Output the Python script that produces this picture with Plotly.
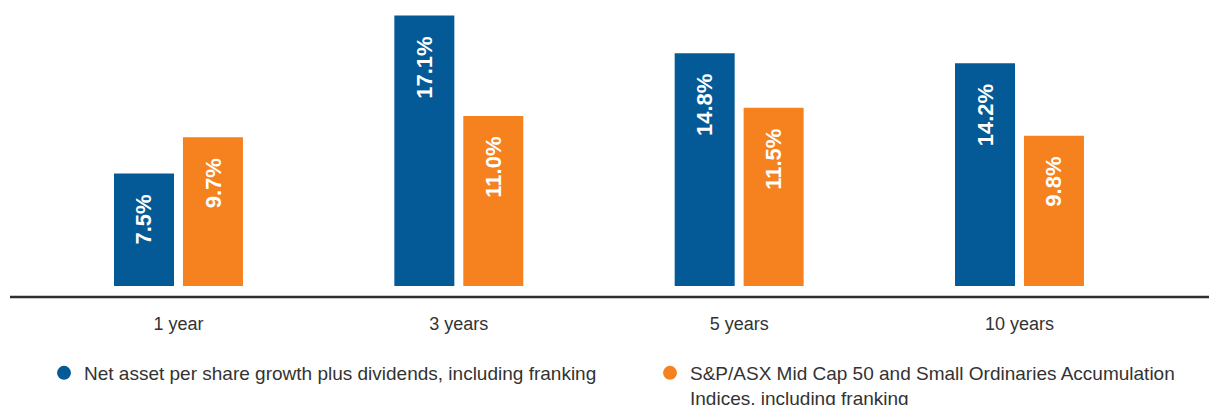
import plotly.graph_objects as go

categories = ["1 year", "3 years", "5 years", "10 years"]
nav_growth = [7.5, 17.1, 14.8, 14.2]
index_return = [9.7, 11.0, 11.5, 9.8]
series_names = [
    "Net asset per share growth plus dividends, including franking",
    "S&P/ASX Mid Cap 50 and Small Ordinaries Accumulation<br>Indices, including franking",
]
colors = ["#045A96", "#F5821F"]

FONT = "Liberation Sans, Arial, sans-serif"

fig = go.Figure()
for vals, col in zip([nav_growth, index_return], colors):
    fig.add_trace(go.Bar(x=categories, y=vals, marker=dict(color=col, line=dict(width=0)),
                         showlegend=False, hoverinfo="skip"))

for name, col, lg in zip(series_names, colors, ["legend", "legend2"]):
    fig.add_trace(go.Scatter(x=[None], y=[None], mode="markers", name=name, legend=lg,
                             marker=dict(color=col, size=14, symbol="circle")))

annotations = []
for vals, xs in zip([nav_growth, index_return], [-34.5, 34.5]):
    for c, v in zip(categories, vals):
        annotations.append(dict(x=c, y=v, xref="x", yref="y", text=f"{v:.1f}%",
                                showarrow=False, textangle=-90, yanchor="top", xanchor="center",
                                xshift=xs, yshift=-19,
                                font=dict(family=FONT, size=22, color="white", weight="bold")))

legend_common = dict(orientation="h", xref="container", yref="container",
                     xanchor="left", y=1 - 354 / 405, yanchor="top", valign="top",
                     font=dict(family=FONT, size=19, color="#333333"),
                     bgcolor="rgba(0,0,0,0)", borderwidth=0)

fig.update_layout(
    width=1209, height=405,
    margin=dict(l=10, r=0, t=0, b=119, pad=0, autoexpand=False),
    plot_bgcolor="white", paper_bgcolor="white",
    barmode="group", bargap=0.508, bargroupgap=0.13,
    font=dict(family=FONT, color="#333333"),
    xaxis=dict(type="category", range=[-0.601, 3.676], showgrid=False, zeroline=False,
               showline=False, ticks="", ticklabelstandoff=25,
               tickfont=dict(size=18, color="#333333")),
    yaxis=dict(range=[0.668, 18.04], visible=False),
    annotations=annotations,
    shapes=[dict(type="line", xref="paper", yref="paper", x0=0, x1=1,
                 y0=-0.0385, y1=-0.0385, line=dict(color="#2f2f2f", width=2.5))],
    legend=dict(x=44 / 1209, **legend_common),
    legend2=dict(x=650 / 1209, **legend_common),
)

fig.write_html("out.html", config={"displayModeBar": False},
               post_script="document.body.style.margin='0px';")
